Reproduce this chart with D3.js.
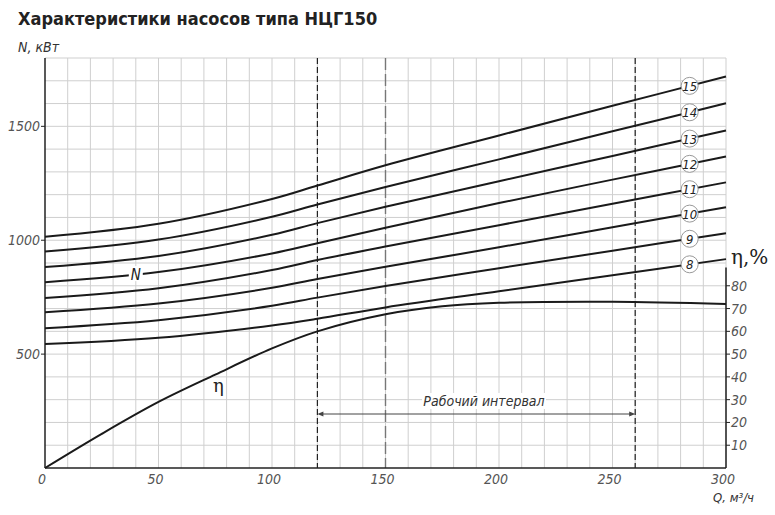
<!DOCTYPE html>
<html>
<head>
<meta charset="utf-8">
<script src="https://cdn.jsdelivr.net/npm/d3@7"></script>
<style>
body { margin: 0; background: #fff; }
text { font-family: "DejaVu Sans Condensed", Roboto, sans-serif; }
.tick { font-style: italic; fill: #555; font-size: 14px; }
</style>
</head>
<body>
<svg width="775" height="515"></svg>
<script>
// flow points, m3/h
var qPoints = [0, 50, 100, 120, 150, 200, 250, 300];
// power curves, kW, by impeller size label
var curveLabels = ["15", "14", "13", "12", "11", "10", "9", "8"];
var curve15 = [1015, 1072, 1181, 1240, 1329, 1460, 1590, 1719];
var curve14 = [950, 1003, 1103, 1157, 1234, 1355, 1478, 1601];
var curve13 = [882, 931, 1024, 1075, 1147, 1259, 1370, 1482];
var curve12 = [816, 860, 942, 987, 1055, 1163, 1266, 1368];
var curve11 = [746, 789, 869, 913, 972, 1066, 1160, 1254];
var curve10 = [684, 722, 791, 830, 884, 969, 1057, 1145];
var curve9 = [614, 649, 712, 748, 799, 877, 954, 1031];
var curve8 = [544, 572, 626, 655, 705, 776, 846, 917];
// efficiency curve
var etaQ = [0, 25, 50, 75, 100, 120, 150, 175, 200, 250, 300];
var etaValues = [0, 15, 29, 41, 52.5, 60, 67.5, 71, 72.5, 73, 72];
var qTicks = [0, 50, 100, 150, 200, 250, 300];
var nTicks = [500, 1000, 1500];
var etaTicks = [10, 20, 30, 40, 50, 60, 70, 80];
var workStart = 120, workEnd = 260, nominalQ = 150;

var svg = d3.select("svg");
var x = d3.scaleLinear().domain([0, 300]).range([45, 726]);
var y = d3.scaleLinear().domain([0, 1800]).range([468, 58]);
var yEta = d3.scaleLinear().domain([0, 180]).range([468, 58]);

svg.append("text").attr("x", 18).attr("y", 25)
    .style("font-weight", "bold").style("font-size", "18px").style("fill", "#222")
    .text("Характеристики насосов типа НЦГ150");

// grid
var grid = svg.append("g").attr("stroke", "#cfcfcf").attr("stroke-width", 1);
grid.selectAll("line.v").data(d3.range(10, 301, 10)).enter().append("line")
    .attr("x1", d => x(d)).attr("x2", d => x(d)).attr("y1", y(1800)).attr("y2", y(0));
grid.selectAll("line.h").data(d3.range(100, 1801, 100)).enter().append("line")
    .attr("x1", x(0)).attr("x2", x(300)).attr("y1", d => y(d)).attr("y2", d => y(d));

// dashed lines
[workStart, workEnd].forEach(function (q) {
    svg.append("line").attr("x1", x(q)).attr("x2", x(q)).attr("y1", y(1800)).attr("y2", y(0))
        .attr("stroke", "#222").attr("stroke-width", 1.2).attr("stroke-dasharray", "6,3");
});
svg.append("line").attr("x1", x(nominalQ)).attr("x2", x(nominalQ)).attr("y1", y(1800)).attr("y2", y(0))
    .attr("stroke", "#777").attr("stroke-width", 1.4).attr("stroke-dasharray", "12,4");

// axes
svg.append("line").attr("x1", x(0)).attr("x2", x(0)).attr("y1", y(1800)).attr("y2", y(0))
    .attr("stroke", "#222").attr("stroke-width", 1.5);
svg.append("line").attr("x1", x(0)).attr("x2", x(300)).attr("y1", y(0)).attr("y2", y(0))
    .attr("stroke", "#222").attr("stroke-width", 1.5);
svg.append("line").attr("x1", x(300)).attr("x2", x(300)).attr("y1", yEta(88)).attr("y2", y(0))
    .attr("stroke", "#222").attr("stroke-width", 1.5);

svg.selectAll("text.qt").data(qTicks).enter().append("text").attr("class", "tick")
    .attr("x", d => x(d) - 3).attr("y", 484).attr("text-anchor", "middle").text(d => d);
svg.selectAll("line.nt").data(nTicks).enter().append("line")
    .attr("x1", x(0) - 4).attr("x2", x(0)).attr("y1", d => y(d)).attr("y2", d => y(d)).attr("stroke", "#222");
svg.selectAll("text.nt").data(nTicks).enter().append("text").attr("class", "tick")
    .attr("x", x(0) - 5).attr("y", d => y(d) + 5).attr("text-anchor", "end").text(d => d);
svg.selectAll("line.et").data(etaTicks).enter().append("line")
    .attr("x1", x(300)).attr("x2", x(300) + 4).attr("y1", d => yEta(d)).attr("y2", d => yEta(d)).attr("stroke", "#222");
svg.selectAll("text.et").data(etaTicks).enter().append("text").attr("class", "tick")
    .attr("x", x(300) + 5).attr("y", d => yEta(d) + 5).text(d => d);

svg.append("text").attr("x", 18).attr("y", 52).attr("class", "tick").style("fill", "#333").text("N, кВт");
svg.append("text").attr("x", 754).attr("y", 502).attr("text-anchor", "end").attr("class", "tick")
    .style("fill", "#333").style("font-size", "13px").text("Q, м³/ч");
svg.append("text").attr("x", 731).attr("y", 264).style("font-size", "20px").style("fill", "#222")
    .style("font-family", "'DejaVu Serif', serif").text("η,%");

// curves
var line = d3.line().x(d => x(d[0])).y(d => y(d[1])).curve(d3.curveCatmullRom);
var curves = [curve15, curve14, curve13, curve12, curve11, curve10, curve9, curve8];
curves.forEach(function (vals, i) {
    var pts = qPoints.map((q, j) => [q, vals[j]]);
    svg.append("path").attr("d", line(pts)).attr("fill", "none").attr("stroke", "#1a1a1a").attr("stroke-width", 2);
    var lq = 284;
    var lv = d3.scaleLinear().domain([250, 300]).range([vals[6], vals[7]])(lq);
    svg.append("circle").attr("cx", x(lq)).attr("cy", y(lv)).attr("r", 8.5)
        .attr("fill", "#fff").attr("stroke", "#999").attr("stroke-width", 1);
    svg.append("text").attr("x", x(lq)).attr("y", y(lv) + 5).attr("text-anchor", "middle")
        .style("font-style", "italic").style("font-size", "13px").style("fill", "#222").text(curveLabels[i]);
});
var etaLine = d3.line().x(d => x(d[0])).y(d => yEta(d[1])).curve(d3.curveCatmullRom);
svg.append("path").attr("d", etaLine(etaQ.map((q, j) => [q, etaValues[j]])))
    .attr("fill", "none").attr("stroke", "#1a1a1a").attr("stroke-width", 2);

// curve labels
var nq = 40, nv = d3.scaleLinear().domain([0, 50]).range([curve12[0], curve12[1]])(nq);
svg.append("rect").attr("x", x(nq) - 7).attr("y", y(nv) - 8).attr("width", 14).attr("height", 15).attr("fill", "#fff");
svg.append("text").attr("x", x(nq)).attr("y", y(nv) + 6).attr("text-anchor", "middle")
    .style("font-style", "italic").style("font-size", "15px").style("fill", "#222").text("N");
svg.append("text").attr("x", x(74)).attr("y", 392).style("font-size", "18px").style("fill", "#222")
    .style("font-family", "'DejaVu Serif', serif").text("η");

// working interval
var ay = 414;
svg.append("line").attr("x1", x(workStart) + 2).attr("x2", x(workEnd) - 2).attr("y1", ay).attr("y2", ay)
    .attr("stroke", "#444").attr("stroke-width", 1);
svg.append("path").attr("d", `M${x(workStart)},${ay}l6,-2.5v5z M${x(workEnd)},${ay}l-6,-2.5v5z`).attr("fill", "#444");
svg.append("rect").attr("x", 422).attr("y", 393).attr("width", 124).attr("height", 16).attr("fill", "#fff");
svg.append("text").attr("x", 484).attr("y", 406).attr("text-anchor", "middle").attr("class", "tick")
    .style("fill", "#333").text("Рабочий интервал");
</script>
</body>
</html>
